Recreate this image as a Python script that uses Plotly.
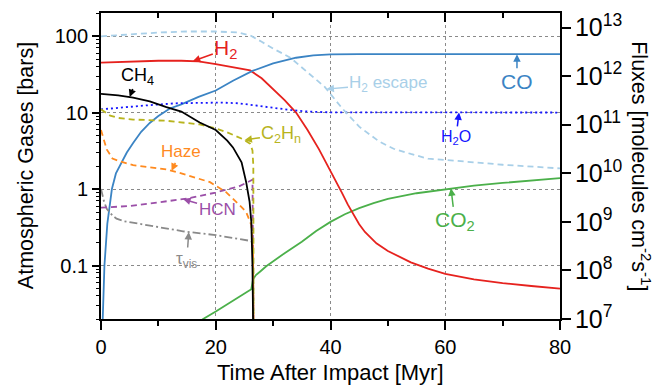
import numpy as np
import plotly.graph_objects as go

# ---------------- data ----------------
h2_t = [0, 5, 10, 14, 17, 20, 23, 26, 28, 30, 32, 34, 36, 38, 40, 41, 42, 43, 44, 45, 46, 47, 48, 50, 52, 54, 57, 60, 65, 70, 75, 80]
h2_v = [45, 46.5, 47.5, 47.5, 46.5, 43, 39.5, 35.5, 28, 20, 14.5, 10, 5.9, 3.3, 1.74, 1.26, 0.89, 0.63, 0.457, 0.347, 0.275, 0.229, 0.195,
        0.155, 0.129, 0.11, 0.091, 0.078, 0.066, 0.059, 0.054, 0.050]

co_t = [0.3, 0.6, 1.1, 1.9, 2.6, 3.3, 4.5, 5.6, 7, 8.5, 10, 12, 14, 17, 20, 23, 26.4, 30, 34, 37, 40, 45, 80]
co_v = [0.02, 0.1, 0.35, 1.0, 1.6, 2.05, 3.0, 4.0, 5.6, 7.3, 9.0, 11.3, 12.8, 16, 19.4, 26, 35, 44, 52, 56, 57.5, 58, 58]

h2esc_t = [0, 5, 10, 15, 20, 24, 26, 28, 30, 33, 36, 39, 42, 45, 48.5, 51, 54, 57, 62, 70, 80]
h2esc_v = [6.6e12, 7.2e12, 7.9e12, 8.3e12, 8.3e12, 7.9e12, 6.9e12, 5.1e12, 3.7e12, 2.4e12, 1.2e12, 6.0e11,
           2.2e11, 9.1e10, 4.5e10, 3.2e10, 2.5e10, 2.0e10, 1.8e10, 1.5e10, 1.26e10]

h2o_t = [0, 4, 8.5, 13, 17, 21, 24, 27, 30, 33, 36, 40, 80]
h2o_v = [11, 11.8, 12.5, 13.2, 13.5, 13.5, 13.2, 12.3, 11.4, 10.8, 10.3, 10.05, 10]

ch4_t = [0, 3, 5.6, 8.5, 11.4, 14, 17.2, 20, 22, 23, 24.5, 25.3, 25.9, 26.2, 26.4, 26.5, 26.55]
ch4_v = [17.5, 16.8, 15.7, 14, 11.8, 10.3, 7.4, 5.9, 4.3, 3.5, 2.24, 1.23, 0.68, 0.37, 0.1, 0.03, 0.01]

c2hn_t = [0, 0.5, 1.6, 3, 5.6, 11.4, 17.2, 20, 22, 24.7, 26, 26.4, 26.55, 26.6]
c2hn_v = [11, 10.3, 9.1, 8.5, 8.1, 7.8, 7, 6.2, 5.5, 4.5, 3.9, 3.2, 2.0, 0.01]

haze_t = [0, 0.5, 1, 2, 3.3, 5.6, 8.5, 11.4, 14, 17.2, 19, 21.8, 23, 24.5, 25.3, 26.2, 26.5, 26.6]
haze_v = [5.9, 4.5, 3.3, 2.5, 2.3, 2.05, 1.9, 1.8, 1.6, 1.36, 1.23, 0.91, 0.75, 0.58, 0.5, 0.34, 0.15, 0.01]

hcn_t = [0, 5, 10, 15, 20, 24, 26.4, 26.6]
hcn_v = [0.57, 0.6, 0.67, 0.75, 0.9, 1.08, 1.32, 0.01]

tau_t = [0, 0.5, 1, 2, 2.7, 4, 6.8, 10, 14.3, 20, 24, 26, 26.5, 26.55]
tau_v = [1.0, 0.7, 0.55, 0.45, 0.41, 0.38, 0.35, 0.32, 0.28, 0.25, 0.22, 0.21, 0.2, 0.01]

co2_t = [17, 17.8, 20, 22, 24, 26.2, 26.5, 27, 27.7, 28.8, 32, 35, 37.5, 40, 42.5, 45, 47.5, 50, 55, 60, 65, 70, 75, 80]
co2_v = [0.018, 0.02, 0.025, 0.031, 0.039, 0.049, 0.066, 0.075, 0.083, 0.098, 0.145, 0.204, 0.282, 0.372, 0.468, 0.562,
         0.653, 0.741, 0.881, 1.0, 1.11, 1.2, 1.30, 1.39]

x_ticks = [0, 20, 40, 60, 80]
y_minor = [k * 10.0 ** e for e in range(-2, 3) for k in range(2, 10)]

# ---------------- styles ----------------
FONT = "Liberation Sans, Arial, Helvetica, sans-serif"
C_H2 = "#e6221e"
C_CO = "#3b84c4"
C_ESC = "#a8cfe8"
C_H2O = "#1515ff"
C_CH4 = "#000000"
C_C2 = "#b8b41e"
C_HAZE = "#ff8a1f"
C_HCN = "#9b4fa8"
C_TAU = "#8a8a8a"
C_CO2 = "#4bb04a"

fig = go.Figure()

def add(t, v, color, dash="solid", width=1.8, yaxis="y"):
    fig.add_trace(go.Scatter(x=t, y=v, mode="lines", yaxis=yaxis,
                             line=dict(color=color, width=width, dash=dash),
                             showlegend=False, hoverinfo="skip"))

add(h2esc_t, h2esc_v, C_ESC, dash="6px,4px", yaxis="y2")
add(co2_t, co2_v, C_CO2)
add(h2_t, h2_v, C_H2)
add(co_t, co_v, C_CO)
add(h2o_t, h2o_v, C_H2O, dash="2px,3px", width=1.8)
add(tau_t, tau_v, C_TAU, dash="8px,3px,2px,3px")
add(hcn_t, hcn_v, C_HCN, dash="6px,4px")
add(haze_t, haze_v, C_HAZE, dash="6px,4px")
add(c2hn_t, c2hn_v, C_C2, dash="6px,4px")
add(ch4_t, ch4_v, C_CH4)

# invisible helper traces so the mirrored top axis and minor-tick axis are drawn
fig.add_trace(go.Scatter(x=h2_t, y=h2_v, xaxis="x2", mode="lines", opacity=0,
                         showlegend=False, hoverinfo="skip"))
fig.add_trace(go.Scatter(x=h2_t, y=h2_v, yaxis="y3", mode="lines", opacity=0,
                         showlegend=False, hoverinfo="skip"))

# ---------------- annotations ----------------
def at(t, v, x):
    """log10 of series value at time x (interpolated in log space)."""
    return float(np.interp(x, t, np.log10(v)))

def label(text, t, v, x, ax, ay, color, size, yref="y"):
    fig.add_annotation(x=x, y=at(t, v, x), xref="x", yref=yref, text=text,
                       showarrow=True, ax=ax, ay=ay, arrowhead=2, arrowsize=1,
                       arrowwidth=1.5, arrowcolor=color, standoff=0,
                       font=dict(color=color, size=size, family=FONT))

label("H<sub>2</sub>", h2_t, h2_v, 16, 33, -12, C_H2, 21)
label("CH<sub>4</sub>", ch4_t, ch4_v, 5, 8, -21, C_CH4, 18)
label("C<sub>2</sub>H<sub>n</sub>", c2hn_t, c2hn_v, 25, 37, -6, C_C2, 18)
label("Haze", haze_t, haze_v, 12.3, 9, -19, C_HAZE, 17)
label("HCN", hcn_t, hcn_v, 14.3, 34, 10, C_HCN, 17)
label("τ<sub>vis</sub>", tau_t, tau_v, 15.3, -2, 28, C_TAU, 17)
label("H<sub>2</sub> escape", h2esc_t, h2esc_v, 39.3, 62, -5, C_ESC, 17, yref="y2")
label("CO", co_t, co_v, 72.5, 0, 27, C_CO, 21)
label("H<sub>2</sub>O", h2o_t, h2o_v, 62.4, -3, 25, C_H2O, 16)
label("CO<sub>2</sub>", co2_t, co2_v, 61, 4, 33, C_CO2, 21)

# axis titles
fig.add_annotation(text="Time After Impact [Myr]", xref="paper", yref="paper",
                   x=0.5, y=-0.175, showarrow=False, xanchor="center", yanchor="middle",
                   font=dict(size=22, family=FONT, color="black"))
fig.add_annotation(text="Atmospheric Gases [bars]", xref="paper", yref="paper",
                   x=-0.163, y=0.5, showarrow=False, textangle=-90,
                   xanchor="center", yanchor="middle",
                   font=dict(size=21.5, family=FONT, color="black"))
fig.add_annotation(text="Fluxes [molecules cm<sup>-2</sup>s<sup>-1</sup>]", xref="paper", yref="paper",
                   x=1.176, y=0.5, showarrow=False, textangle=90,
                   xanchor="center", yanchor="middle",
                   font=dict(size=21.5, family=FONT, color="black"))

grid = dict(showgrid=True, gridcolor="#8a8a8a", gridwidth=1, griddash="dot")
yrange = [np.log10(0.02), np.log10(200)]

fig.update_layout(
    width=670, height=391,
    margin=dict(l=101, r=110, t=10, b=72),
    paper_bgcolor="white", plot_bgcolor="white",
    font=dict(family=FONT, size=20, color="black"),
    xaxis=dict(range=[0, 80], tickvals=x_ticks, ticks="outside", ticklen=9, tickwidth=1.5,
               tickcolor="black", showline=True, linecolor="black", linewidth=1.8,
               zeroline=False, tickfont=dict(size=20),
               minor=dict(dtick=10, tick0=0, ticks="outside", ticklen=5, tickwidth=1.5,
                          tickcolor="black", showgrid=False),
               **grid),
    xaxis2=dict(range=[0, 80], overlaying="x", side="top", anchor="y", matches="x",
                tickvals=x_ticks, ticks="inside", ticklen=9, tickwidth=1.5, tickcolor="black",
                showticklabels=False, showline=True, linecolor="black", linewidth=1.8,
                showgrid=False, zeroline=False,
                minor=dict(dtick=10, tick0=0, ticks="inside", ticklen=5, tickwidth=1.5,
                           tickcolor="black", showgrid=False)),
    yaxis=dict(type="log", range=yrange, dtick=1, tick0=0,
               ticks="outside", ticklen=7, tickwidth=1.5, tickcolor="black",
               showline=True, linecolor="black", linewidth=1.8, zeroline=False,
               tickfont=dict(size=20), **grid),
    yaxis3=dict(type="log", range=yrange, overlaying="y", side="left", anchor="x",
                tickmode="array", tickvals=y_minor, ticks="outside", ticklen=4, tickwidth=1,
                tickcolor="black", showticklabels=False, showgrid=False, showline=False,
                zeroline=False),
    yaxis2=dict(type="log", range=[7, 13.3], dtick=1, tick0=0, overlaying="y", side="right",
                anchor="x", exponentformat="power", showexponent="all",
                ticks="outside", ticklen=9, tickwidth=1.5, tickcolor="black",
                showline=True, linecolor="black", linewidth=1.8, showgrid=False, zeroline=False,
                tickfont=dict(size=20)),
)

fig.write_html("out.html")
